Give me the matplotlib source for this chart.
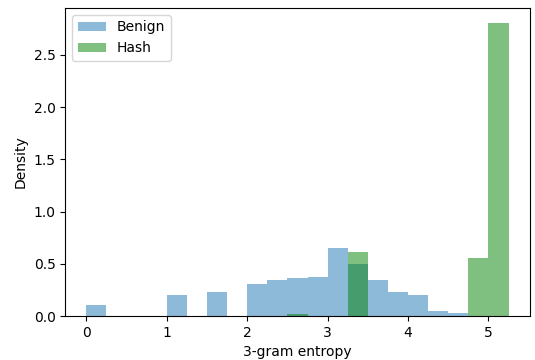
import numpy as np
import matplotlib
matplotlib.use('Agg')
import matplotlib.pyplot as plt

# bin edges (width 0.25) and densities
bin_edges = np.arange(0, 5.5, 0.25)
benign = [0.11, 0, 0, 0, 0.20, 0, 0.23, 0, 0.31, 0.35, 0.36, 0.37,
          0.65, 0.50, 0.35, 0.23, 0.20, 0.05, 0.03, 0, 0]
hashed = [0, 0, 0, 0, 0, 0, 0, 0, 0, 0, 0.02, 0,
          0, 0.61, 0, 0, 0, 0, 0, 0.56, 2.81]

centers = bin_edges[:-1] + 0.125

fig, ax = plt.subplots(figsize=(5.35, 3.6), dpi=100)
ax.hist(centers, bins=bin_edges, weights=benign, alpha=0.5, label='Benign')
ax.hist(centers, bins=bin_edges, weights=hashed, alpha=0.5, color='green', label='Hash')

ax.set_xlabel('3-gram entropy')
ax.set_ylabel('Density')
ax.legend(loc='upper left')

plt.subplots_adjust(left=0.122, right=0.99, top=0.978, bottom=0.122)
plt.savefig('out.png')
